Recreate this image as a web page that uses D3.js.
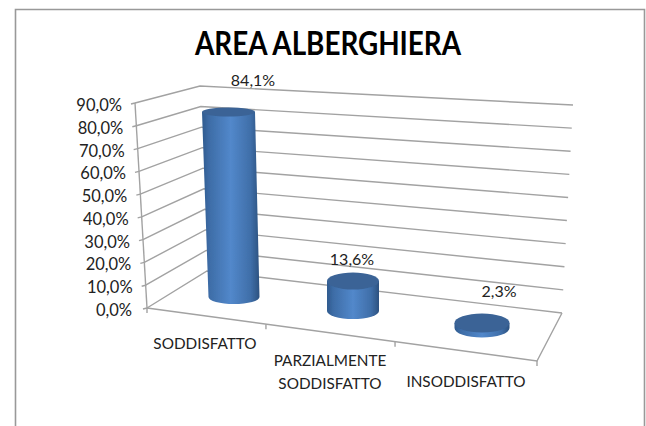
<!DOCTYPE html>
<html><head><meta charset="utf-8">
<script src="https://cdn.jsdelivr.net/npm/d3@7"></script>
<style>html,body{margin:0;padding:0;background:#fff}svg{display:block}text{font-family:Lato,"Open Sans",sans-serif}</style>
</head><body><div id="c"></div>
<script>
const title = "AREA ALBERGHIERA";
const categories = ["SODDISFATTO", "PARZIALMENTE|SODDISFATTO", "INSODDISFATTO"];
const values = [84.1, 13.6, 2.3];
const valueLabels = ["84,1%", "13,6%", "2,3%"];
const ticks = [0, 10, 20, 30, 40, 50, 60, 70, 80, 90];
const fmt = v => v.toFixed(1).replace(".", ",") + "%";

const W = 646, H = 426;
const svg = d3.select("#c").append("svg").attr("width", W).attr("height", H);
const grey = "#a2a2a2";

// perspective edges of the 3D box
const dom = [0, 90];
const frontY = d3.scaleLinear(dom, [308, 103]), frontX = d3.scaleLinear(dom, [147, 135]);
const backLY = d3.scaleLinear(dom, [271, 86]), backLX = d3.scaleLinear(dom, [207, 200]);
const backRY = d3.scaleLinear(dom, [313, 105]), backRX = d3.scaleLinear(dom, [562, 573]);
const heightPx = d3.scaleLinear(dom, [0, 198]);
const floorFront = { l: [147, 308], r: [537, 361] };
const along = t => [floorFront.l[0] + (floorFront.r[0] - floorFront.l[0]) * t, floorFront.l[1] + (floorFront.r[1] - floorFront.l[1]) * t];

const defs = svg.append("defs");
const grad = defs.append("linearGradient").attr("id", "cyl").attr("x1", 0).attr("x2", 1).attr("y1", 0).attr("y2", 0);
[[0, "#2f5a8e"], [0.12, "#3d6ca6"], [0.5, "#5288cb"], [0.85, "#3f6ea8"], [1, "#2c517f"]]
  .forEach(s => grad.append("stop").attr("offset", s[0]).attr("stop-color", s[1]));
const f = defs.append("filter").attr("id", "soft").attr("x", "-5%").attr("y", "-5%").attr("width", "110%").attr("height", "110%");
f.append("feGaussianBlur").attr("stdDeviation", 0.45);

// frame
svg.append("path").attr("d", `M15.5,${H}V9.5H644.5V${H}`).attr("fill", "none").attr("stroke", "#999").attr("stroke-width", 1.6);

svg.append("text").attr("x", 328).attr("y", 55).attr("text-anchor", "middle")
  .attr("font-size", 32).attr("font-weight", 700).attr("fill", "#000")
  .attr("textLength", 266).attr("lengthAdjust", "spacingAndGlyphs").text(title);

// grid on walls
const line = d3.line();
const g = svg.append("g").attr("fill", "none").attr("stroke", grey).attr("stroke-width", 1.4);
ticks.forEach(t => {
  g.append("path").attr("d", line([[frontX(t), frontY(t)], [backLX(t), backLY(t)], [backRX(t), backRY(t)]]));
  g.append("path").attr("d", line([[frontX(t) - 4, frontY(t) + 1], [frontX(t), frontY(t)]]));
});
g.append("path").attr("d", line([[frontX(0), frontY(0)], [frontX(90), frontY(90)]]));
// floor
g.append("path").attr("d", line([floorFront.l, floorFront.r, [backRX(0), backRY(0)]]));
[0, 0.305, 0.636, 1].forEach(t => {
  const p = along(t);
  g.append("path").attr("d", line([p, [p[0], p[1] + 5]]));
});

// y tick labels
svg.append("g").selectAll("text").data(ticks).join("text")
  .attr("x", d => frontX(d) - 13 - (d === 0 ? 2 : 0)).attr("y", d => frontY(d) + 8)
  .attr("text-anchor", "end").attr("font-size", 16.5).attr("fill", "#222").text(fmt);

// cylinders
const layout = [
  { bx: 234, by: 297, tx: 228.5, rb: 25.5, rt: 26.5, ryb: 7, ryt: 4.5 },
  { bx: 353, by: 311, tx: 353, rb: 26, rt: 26, ryb: 8, ryt: 8.5 },
  { bx: 482, by: 328, tx: 482, rb: 27.5, rt: 27.5, ryb: 9.5, ryt: 9.5 }
];
const cg = svg.append("g").attr("filter", "url(#soft)");
values.forEach((v, i) => {
  const c = layout[i], ty = c.by - heightPx(v);
  cg.append("path").attr("fill", "url(#cyl)")
    .attr("d", `M${c.tx - c.rt},${ty}L${c.bx - c.rb},${c.by}A${c.rb},${c.ryb} 0 0 0 ${c.bx + c.rb},${c.by}L${c.tx + c.rt},${ty}Z`);
  cg.append("ellipse").attr("cx", c.tx).attr("cy", ty).attr("rx", c.rt).attr("ry", c.ryt).attr("fill", "#3a6396");
});

// value labels
const lblPos = [[253, 86], [352, 265], [499, 297]];
svg.append("g").selectAll("text").data(valueLabels).join("text")
  .attr("x", (d, i) => lblPos[i][0]).attr("y", (d, i) => lblPos[i][1])
  .attr("text-anchor", "middle").attr("font-size", 16).attr("fill", "#222").text(d => d);

// category labels
const catPos = [[205, 349], [330, 366], [466, 387]];
categories.forEach((c, i) => {
  c.split("|").forEach((s, j) => {
    svg.append("text").attr("x", catPos[i][0]).attr("y", catPos[i][1] + j * 23)
      .attr("text-anchor", "middle").attr("font-size", 15.3).attr("fill", "#222").text(s);
  });
});
</script></body></html>
